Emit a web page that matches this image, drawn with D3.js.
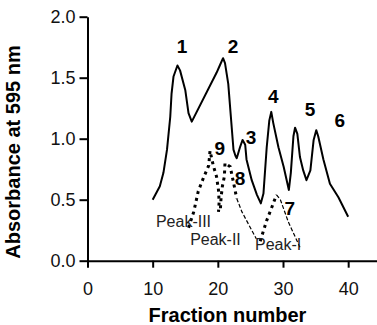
<!DOCTYPE html>
<html>
<head>
<meta charset="utf-8">
<script src="https://cdn.jsdelivr.net/npm/d3@7"></script>
<style>
  body { margin: 0; background: #fff; }
  svg { display: block; font-family: "Liberation Sans", Arial, sans-serif; }
</style>
</head>
<body>
<div id="chart"></div>
<script>
// main elution profile (solid line)
const fraction = [10, 11.1, 11.65, 12.2, 12.7, 12.9, 13.2, 13.8, 14.2, 15.0, 15.5, 16.0, 19.8, 20.3, 20.8, 21.1, 21.6, 22.0, 22.4, 22.7, 22.9, 23.4, 23.8, 24.2, 24.4, 25.2, 26.0, 26.6, 27.0, 27.5, 27.9, 28.2, 28.5, 29.3, 30.1, 30.9, 31.2, 31.6, 31.85, 32.2, 32.6, 33.1, 33.6, 34.2, 34.7, 35.1, 35.4, 36.2, 37.2, 38.5, 40.0];
const absorbance = [0.50, 0.61, 0.72, 0.91, 1.18, 1.37, 1.51, 1.60, 1.56, 1.40, 1.21, 1.14, 1.54, 1.60, 1.66, 1.62, 1.45, 1.18, 0.91, 0.86, 0.84, 0.93, 0.99, 0.95, 0.83, 0.66, 0.54, 0.47, 0.55, 0.93, 1.15, 1.22, 1.13, 0.93, 0.77, 0.58, 0.72, 1.02, 1.09, 1.04, 0.85, 0.74, 0.66, 0.74, 0.99, 1.07, 1.02, 0.83, 0.63, 0.52, 0.36];

// rechromatographed peaks (dotted = thick, dashed = thin)
const peak3X = [15.5, 16.3, 17.0, 17.8, 18.6, 18.8, 19.3, 19.8, 20.1, 20.2, 20.1];
const peak3Y = [0.27, 0.40, 0.57, 0.68, 0.78, 0.90, 0.78, 0.69, 0.58, 0.48, 0.40];
const peak2X = [20.4, 20.5, 20.7, 21.0, 21.1, 21.9, 22.6, 22.9];
const peak2Y = [0.43, 0.52, 0.61, 0.69, 0.80, 0.77, 0.59, 0.51];
const peak2TailX = [22.9, 23.7, 25.2, 25.9];
const peak2TailY = [0.51, 0.40, 0.25, 0.18];
const peak1X = [26.5, 27.5, 28.3, 29.0];
const peak1Y = [0.16, 0.33, 0.44, 0.54];
const peak1TailX = [29.0, 29.6, 30.8, 32.6];
const peak1TailY = [0.54, 0.50, 0.32, 0.11];

// peak numbers
const numText = ["1", "2", "3", "4", "5", "6", "7", "8", "9"];
const numX = [14.5, 22.35, 25.1, 28.5, 34.15, 38.7, 31.05, 23.4, 20.3];
const numY = [1.70, 1.70, 0.96, 1.29, 1.19, 1.10, 0.375, 0.62, 0.87];

const peakNames = ["Peak-III", "Peak-II", "Peak-I"];
const peakNameX = [10.5, 15.75, 25.7];
const peakNameY = [0.28, 0.13, 0.088];

const xTicks = [0, 10, 20, 30, 40];
const yTicks = [0, 0.5, 1.0, 1.5, 2.0];

const W = 377, H = 325;
const svg = d3.select("#chart").append("svg").attr("width", W).attr("height", H);

const x = d3.scaleLinear().domain([0, 44.5]).range([87.5, 377.5]);
const y = d3.scaleLinear().domain([0, 2]).range([260.7, 16.7]);

const xAxis = svg.append("g")
    .attr("transform", `translate(0,${y(0)})`)
    .call(d3.axisBottom(x).tickValues(xTicks).tickSize(7).tickSizeOuter(0).tickPadding(15).tickFormat(d3.format("d")));
const yAxis = svg.append("g")
    .attr("transform", `translate(${x(0)},0)`)
    .call(d3.axisLeft(y).tickValues(yTicks).tickSize(8).tickSizeOuter(0).tickPadding(4).tickFormat(d3.format(".1f")));

[xAxis, yAxis].forEach(g => {
  g.select(".domain").attr("stroke", "#000").attr("stroke-width", 2);
  g.selectAll(".tick line").attr("stroke", "#000").attr("stroke-width", 2);
  g.selectAll(".tick text").attr("fill", "#111").attr("font-size", 18)
    .attr("font-family", "Liberation Sans, Arial, sans-serif");
});

const line = d3.line().x(d => x(d[0])).y(d => y(d[1])).curve(d3.curveLinear);
const pts = (xs, ys) => xs.map((v, i) => [v, ys[i]]);

svg.append("path")
    .datum(pts(fraction, absorbance))
    .attr("d", line)
    .attr("fill", "none")
    .attr("stroke", "#000")
    .attr("stroke-width", 2)
    .attr("stroke-linejoin", "round");

// thick dotted parts
[pts(peak3X, peak3Y), pts(peak2X, peak2Y), pts(peak1X, peak1Y)].forEach(p => {
  svg.append("path").datum(p).attr("d", line)
      .attr("fill", "none").attr("stroke", "#000")
      .attr("stroke-width", 3).attr("stroke-dasharray", "3,4");
});
// thin dashed parts
[pts(peak2TailX, peak2TailY), pts(peak1TailX, peak1TailY)].forEach(p => {
  svg.append("path").datum(p).attr("d", line)
      .attr("fill", "none").attr("stroke", "#000")
      .attr("stroke-width", 1.2).attr("stroke-dasharray", "4,2");
});

svg.selectAll(".num")
  .data(numText)
  .join("text")
    .attr("class", "num")
    .attr("x", (d, i) => x(numX[i]))
    .attr("y", (d, i) => y(numY[i]))
    .attr("text-anchor", "middle")
    .attr("font-size", 19)
    .attr("font-weight", "bold")
    .text(d => d);

svg.selectAll(".pname")
  .data(peakNames)
  .join("text")
    .attr("class", "pname")
    .attr("x", (d, i) => x(peakNameX[i]))
    .attr("y", (d, i) => y(peakNameY[i]))
    .attr("font-size", 16)
    .attr("fill", "#222")
    .text(d => d);

svg.append("text")
    .attr("x", 227.5)
    .attr("y", 322)
    .attr("text-anchor", "middle")
    .attr("font-size", 20)
    .attr("font-weight", "bold")
    .text("Fraction number");

svg.append("text")
    .attr("transform", "translate(19.5,152) rotate(-90)")
    .attr("text-anchor", "middle")
    .attr("font-size", 20)
    .attr("font-weight", "bold")
    .text("Absorbance at 595 nm");
</script>
</body>
</html>
